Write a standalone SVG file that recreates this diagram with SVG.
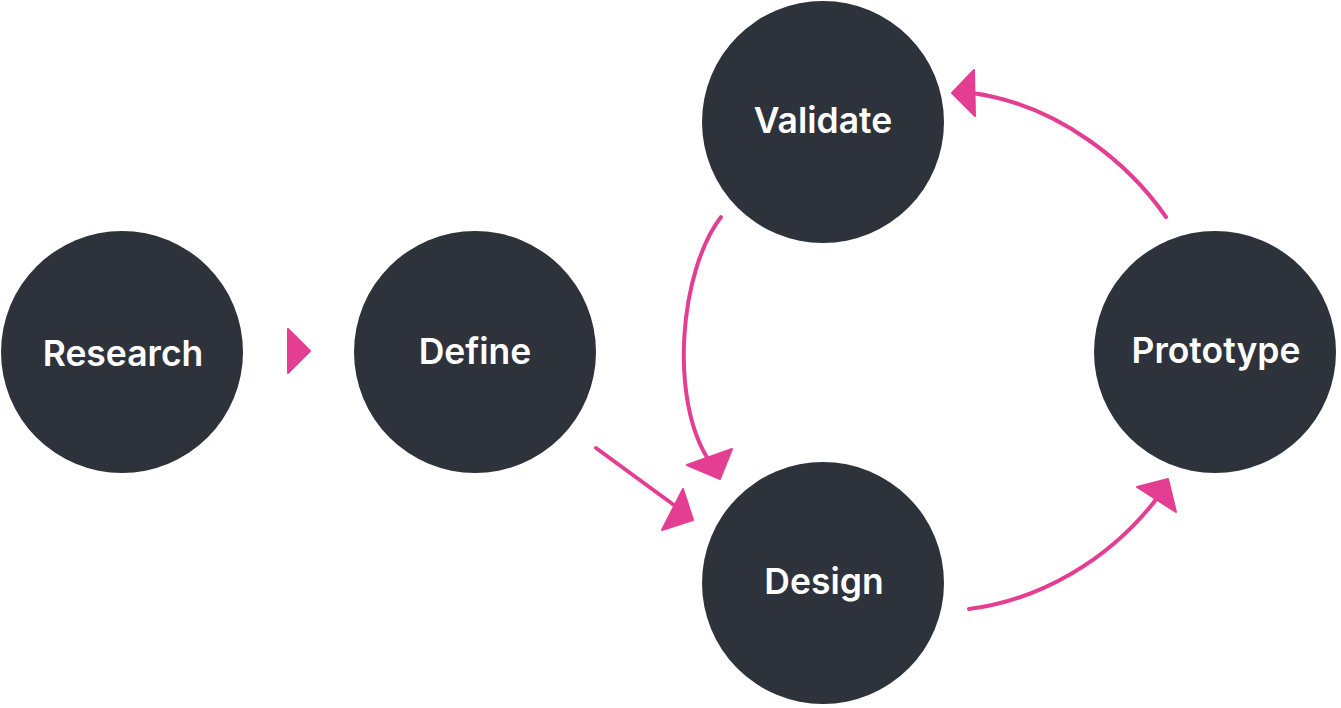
<svg xmlns="http://www.w3.org/2000/svg" width="1341" height="708" viewBox="0 0 1341 708">
<style>
.node circle{fill:#2e323b}
.node text{fill:#ffffff;font-family:Inter,"Liberation Sans",sans-serif;font-weight:600;font-size:35.5px;text-anchor:middle}
.conn path{fill:none;stroke:#e43e92;stroke-width:4;stroke-linecap:round}
.conn polygon{fill:#e43e92;stroke:#e43e92;stroke-width:2;stroke-linejoin:round}
</style>
<rect width="1341" height="708" fill="#ffffff"/>
<g class="conn" id="connectors">
<polygon points="288,329 288,373 310,351"/>
<path d="M596,448 L678,508"/>
<polygon points="683,489 693,520 662,530"/>
<path d="M721,217 C680,270 668,400 710,462"/>
<polygon points="687,465 732,449 720,479"/>
<path d="M1166,217 C1130,165 1060,105 972,93"/>
<polygon points="952,93 974,70 975,116"/>
<path d="M969,609 C1040,600 1110,560 1158,497"/>
<polygon points="1137,487 1168,479 1176,512"/>
</g>
<g class="node" id="research"><circle cx="122" cy="352" r="121"/><text x="123" y="366">Research</text></g>
<g class="node" id="define"><circle cx="475" cy="352" r="121"/><text x="475" y="364">Define</text></g>
<g class="node" id="validate"><circle cx="823" cy="122" r="121"/><text x="823" y="133">Validate</text></g>
<g class="node" id="design"><circle cx="823" cy="583" r="121"/><text x="824" y="594">Design</text></g>
<g class="node" id="prototype"><circle cx="1215" cy="352" r="121"/><text x="1216" y="363">Prototype</text></g>
</svg>
